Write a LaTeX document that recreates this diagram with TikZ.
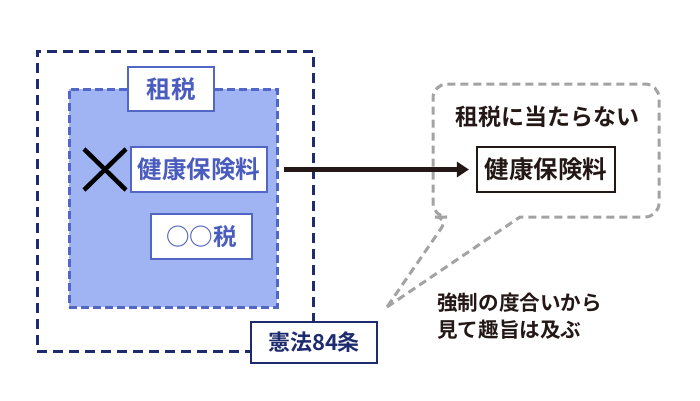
\documentclass[tikz,border=0pt]{standalone}
\usepackage{fontspec}
\setmainfont{Noto Sans CJK JP}[BoldFont={Noto Sans CJK JP Bold}]
\usetikzlibrary{arrows.meta,calc}
\definecolor{navy}{HTML}{1F2B6F}
\definecolor{bfill}{HTML}{A0B4F4}
\definecolor{bline}{HTML}{5266C6}
\definecolor{btext}{HTML}{4A5CBE}
\definecolor{ink}{HTML}{231815}
\definecolor{cgray}{HTML}{A3A3A3}
\tikzset{
  outerbox/.style={draw=navy, line width=3pt, dash pattern=on 10pt off 6pt, inner sep=0pt},
  innerbox/.style={draw=bline, fill=bfill, line width=3pt, dash pattern=on 8pt off 4pt, inner sep=0pt},
  bluelabel/.style={draw=bline, fill=white, line width=2.2pt, text=btext, font=\bfseries\fontsize{24.5}{28}\selectfont, inner sep=0pt},
  navylabel/.style={draw=navy, fill=white, line width=2.2pt, text=navy, font=\bfseries\fontsize{22}{26}\selectfont, inner sep=0pt},
  blacklabel/.style={draw=ink, fill=white, line width=2.2pt, text=ink, font=\bfseries\fontsize{24.5}{28}\selectfont, inner sep=0pt},
  callout/.style={draw=cgray, line width=3pt, dash pattern=on 8pt off 5pt},
  plaintext/.style={text=ink, font=\bfseries\fontsize{20.6}{27}\selectfont, inner sep=0pt},
  link/.style={draw=ink, line width=4.5pt, -{Triangle[length=12pt,width=15pt]}},
  cross/.style={draw=black, line width=4.5pt}
}
\begin{document}
\begin{tikzpicture}[x=1pt,y=-1pt]
\useasboundingbox (0,0) rectangle (700,400);
\node[outerbox, minimum width=276pt, minimum height=300pt] (outer) at (175,201) {};
\node[innerbox, minimum width=208pt, minimum height=218pt] (inner) at (173,198) {};
\node[bluelabel, minimum width=86pt, minimum height=44pt] (sozei) at (171,89) {租税};
\node[bluelabel, minimum width=136pt, minimum height=45pt] (hoken) at (199,169.5) {健康保険料};
\node[bluelabel, minimum width=101pt, minimum height=45pt, font=\bfseries\fontsize{23.5}{28}\selectfont] (maru) at (201.5,236.5) {○○税};
\node[navylabel, minimum width=126pt, minimum height=41pt] (kenpo) at (314,342.5) {憲法84条};
\coordinate (xa) at (84,149);
\coordinate (xb) at (126,190);
\coordinate (xc) at (84,190);
\coordinate (xd) at (126,149);
\draw[cross] (xa) -- (xb);
\draw[cross] (xc) -- (xd);
\coordinate (tip) at (387,307);
\coordinate (c1) at (520,217);
\coordinate (c2) at (659,217);
\coordinate (c3) at (659,84);
\coordinate (c4) at (433,84);
\coordinate (c5) at (433,217);
\coordinate (c6) at (449,217);
\draw[callout] (tip) -- (c1) [rounded corners=14pt] -- (c2) -- (c3) -- (c4) -- (c5) -- (c6) [sharp corners] -- cycle;
\node[plaintext, font=\bfseries\fontsize{23}{27}\selectfont] (title) at (547,117) {租税に当たらない};
\node[blacklabel, minimum width=138pt, minimum height=45pt] (hoken2) at (546,169.5) {健康保険料};
\node[plaintext, anchor=west, align=left] (note) at (437,316) {強制の度合いから\\見て趣旨は及ぶ};
\coordinate (start) at ($(inner.east |- hoken.east)+(5,0)$);
\draw[link, shorten >=7pt] (start) -- (hoken2.west);
\end{tikzpicture}
\end{document}
